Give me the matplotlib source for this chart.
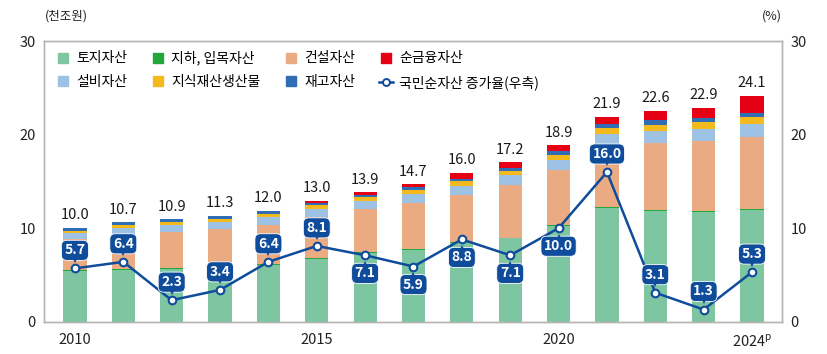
import matplotlib
matplotlib.use('Agg')
import numpy as np
from matplotlib import pyplot as plt
from matplotlib import transforms
from matplotlib.lines import Line2D

plt.rcParams['font.family'] = ['Noto Sans CJK KR', 'DejaVu Sans']

years = list(range(2010, 2025))
year_ticks = ['2010', '2015', '2020', r'2024$^{\mathregular{p}}$']
year_tick_pos = [2010, 2015, 2020, 2024]

# 천조원
land = [5.45, 5.55, 5.65, 5.75, 6.1, 6.7, 7.3, 7.7, 8.4, 8.9, 10.2, 12.2, 11.85, 11.75, 11.95]
subsoil = [0.1, 0.1, 0.1, 0.1, 0.1, 0.1, 0.1, 0.1, 0.1, 0.1, 0.1, 0.1, 0.1, 0.1, 0.1]
construction = [3.25, 3.65, 3.85, 4.05, 4.15, 4.4, 4.6, 4.9, 5.0, 5.6, 5.95, 6.6, 7.15, 7.45, 7.65]
equipment = [0.7, 0.72, 0.75, 0.78, 0.82, 0.87, 0.9, 0.98, 1.05, 1.05, 1.07, 1.17, 1.28, 1.3, 1.4]
ip_products = [0.25, 0.27, 0.29, 0.31, 0.33, 0.36, 0.38, 0.41, 0.45, 0.5, 0.55, 0.6, 0.66, 0.72, 0.78]
inventory = [0.3, 0.32, 0.33, 0.33, 0.33, 0.3, 0.3, 0.3, 0.3, 0.33, 0.37, 0.42, 0.48, 0.46, 0.45]
net_financial = [0.0, 0.0, 0.0, 0.0, 0.05, 0.2, 0.25, 0.3, 0.6, 0.55, 0.6, 0.8, 1.05, 1.1, 1.8]
totals = [10.0, 10.7, 10.9, 11.3, 12.0, 13.0, 13.9, 14.7, 16.0, 17.2, 18.9, 21.9, 22.6, 22.9, 24.1]

# %
growth = [5.7, 6.4, 2.3, 3.4, 6.4, 8.1, 7.1, 5.9, 8.8, 7.1, 10.0, 16.0, 3.1, 1.3, 5.3]
growth_label_side = ['up', 'up', 'up', 'up', 'up', 'up', 'down', 'down', 'down', 'down',
                     'down', 'up', 'up', 'up', 'up']

series = [
    ('토지자산', land, '#7dc6a1'),
    ('지하, 입목자산', subsoil, '#22a83a'),
    ('건설자산', construction, '#eaab82'),
    ('설비자산', equipment, '#9dc2e4'),
    ('지식재산생산물', ip_products, '#f4b91d'),
    ('재고자산', inventory, '#2f6db5'),
    ('순금융자산', net_financial, '#e60013'),
]
line_color = '#0f4c9c'
frame_color = '#b4b4b4'

fig = plt.figure(figsize=(8.27, 3.54), dpi=100)
ax = fig.add_axes([0.0532, 0.0912, 0.8924, 0.7928])

x = np.arange(len(years))
bottom = np.zeros(len(years))
for name, vals, color in series:
    ax.bar(x, vals, width=0.48, bottom=bottom, color=color, linewidth=0, zorder=2)
    bottom += np.array(vals)

for xi, top, t in zip(x, bottom, totals):
    ax.annotate(f'{t:.1f}', xy=(xi, top), xytext=(0, 4), textcoords='offset points',
                ha='center', va='bottom', fontsize=10.5, color='#1a1a1a',
                fontweight='medium', zorder=5)

ax.set_xlim(-0.64, 14.62)
ax.set_ylim(0, 30)
ax.set_yticks([0, 10, 20, 30])
ax.set_xticks([years.index(y) for y in year_tick_pos])
ax.set_xticklabels(year_ticks)
ax.tick_params(axis='both', length=0, labelsize=10.5, colors='#222222')
ax.tick_params(axis='y', pad=6)
ax.tick_params(axis='x', pad=8)
for sp in ax.spines.values():
    sp.set_color(frame_color)
    sp.set_linewidth(1.0)

ax2 = ax.twinx()
ax2.set_ylim(0, 30)
ax2.set_yticks([0, 10, 20, 30])
ax2.tick_params(axis='y', length=0, labelsize=10.5, colors='#222222', pad=6)
for sp in ax2.spines.values():
    sp.set_color(frame_color)
    sp.set_linewidth(1.0)

ax2.plot(x, growth, color=line_color, lw=1.8, marker='o', ms=5.5,
         mfc='white', mec=line_color, mew=1.5, zorder=3)

for xi, g, side in zip(x, growth, growth_label_side):
    sign = 1 if side == 'up' else -1
    ax2.annotate(f'{g:.1f}', xy=(xi, g), xytext=(0, 13 * sign), textcoords='offset points',
                 ha='center', va='center', fontsize=10, color='white', fontweight='bold',
                 bbox=dict(boxstyle='round,pad=0.22,rounding_size=0.4', fc=line_color,
                           ec='white', lw=0.6),
                 zorder=6)
    tr = transforms.offset_copy(ax2.transData, fig=fig, x=0, y=6.2 * sign, units='points')
    ax2.plot(xi, g, transform=tr, marker='v' if side == 'up' else '^', ms=4.5,
             color=line_color, mew=0, zorder=6)

fig.text(0.054, 0.955, '(천조원)', fontsize=9, ha='left', va='center', color='#222222')
fig.text(0.945, 0.955, '(%)', fontsize=9, ha='right', va='center', color='#222222')

handles = []
labels = []
for name, vals, color in series:
    handles.append(Line2D([], [], ls='none', marker='s', ms=7, mfc=color, mec=color))
    labels.append(name)
handles.append(Line2D([], [], color=line_color, lw=1.8, marker='o', ms=5,
                      mfc='white', mec=line_color, mew=1.4))
labels.append('국민순자산 증가율(우측)')

# legend fills column-first; reorder so rows read as in the reference
order = [0, 3, 1, 4, 2, 5, 6, 7]
leg = ax2.legend([handles[i] for i in order], [labels[i] for i in order],
                 ncol=4, loc='upper left', bbox_to_anchor=(0.0, 1.01),
                 frameon=False, fontsize=10, handlelength=1.0,
                 handletextpad=0.45, columnspacing=1.7, labelspacing=0.7)

fig.savefig('out.png', dpi=100)
